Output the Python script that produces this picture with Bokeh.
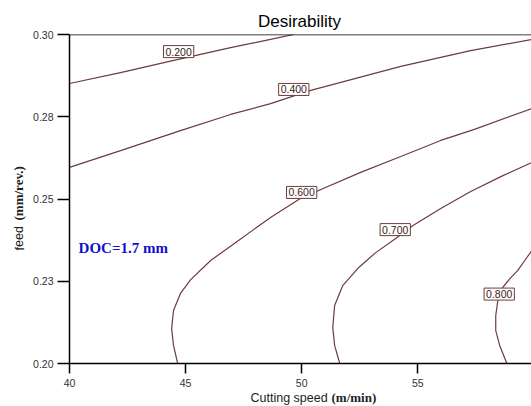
from bokeh.plotting import figure
from bokeh.models import Range1d, Label, Span, FixedTicker
from bokeh.embed import file_html
from bokeh.resources import INLINE

# ---- data ----
x_min, x_max = 40.0, 59.9
y_min, y_max = 0.20, 0.30
x_ticks = [40, 45, 50, 55, 60]
y_ticks = [0.200, 0.225, 0.250, 0.275, 0.300]
y_tick_labels = ["0.20", "0.23", "0.25", "0.28", "0.30"]

c200_x = [40.0, 42.20, 44.35, 46.94, 48.66, 49.66]
c200_y = [0.2851, 0.2884, 0.2919, 0.2960, 0.2985, 0.3000]

c400_x = [40.0, 42.20, 44.78, 46.94, 48.66, 50.39, 54.27, 57.28, 59.91]
c400_y = [0.2596, 0.2647, 0.2708, 0.2757, 0.2790, 0.2830, 0.2903, 0.2951, 0.2985]

c600_x = [44.66, 44.48, 44.40, 44.48, 44.78, 45.22, 46.08, 47.16, 48.66, 49.96,
          50.73, 52.54, 54.27, 55.99, 57.41, 59.91]
c600_y = [0.2000, 0.2055, 0.2106, 0.2161, 0.2213, 0.2255, 0.2313, 0.2368, 0.2444, 0.2502,
          0.2526, 0.2581, 0.2629, 0.2678, 0.2711, 0.2775]

c700_x = [51.64, 51.42, 51.34, 51.42, 51.77, 52.46, 53.19, 54.05, 54.78, 55.99,
          57.28, 58.58, 59.91]
c700_y = [0.2000, 0.2055, 0.2109, 0.2176, 0.2237, 0.2292, 0.2337, 0.2380, 0.2419, 0.2471,
          0.2523, 0.2568, 0.2611]

c800_x = [58.84, 58.53, 58.36, 58.36, 58.45, 58.66, 58.97, 59.31, 59.61, 59.91]
c800_y = [0.2000, 0.2055, 0.2100, 0.2146, 0.2191, 0.2231, 0.2258, 0.2283, 0.2313, 0.2343]

contour_levels = ["0.200", "0.400", "0.600", "0.700", "0.800"]
label_x = [44.70, 49.66, 50.00, 54.03, 58.51]
label_y = [0.2948, 0.2833, 0.2520, 0.2407, 0.2211]

title_text = "Desirability"
x_label_main = "Cutting speed"
x_label_unit = "(m/min)"
y_label_main = "feed"
y_label_unit = "(mm/rev.)"
note_text = "DOC=1.7 mm"
note_x, note_y = 40.39, 0.235

# ---- styling ----
LINE = "#6e3b3b"
SANS = "Liberation Sans"
SERIF = "Liberation Serif"

p = figure(width=531, height=406, output_backend="svg", toolbar_location=None,
           x_range=Range1d(x_min, x_max), y_range=Range1d(y_min, y_max),
           min_border_left=69, min_border_right=0, min_border_top=34,
           min_border_bottom=43)

p.grid.visible = False
p.outline_line_color = None
p.background_fill_color = "white"
p.border_fill_color = "white"

for ax in (p.xaxis[0], p.yaxis[0]):
    ax.axis_line_color = "black"
    ax.axis_line_width = 1.5
    ax.major_tick_line_color = "black"
    ax.major_tick_line_width = 1.5
    ax.minor_tick_line_color = None
    ax.major_tick_in = 0
    ax.major_label_text_font = SANS
    ax.major_label_text_font_size = "10.5px"
    ax.major_label_text_color = "#333333"

p.xaxis[0].ticker = FixedTicker(ticks=x_ticks)
p.xaxis[0].major_tick_out = 10
p.xaxis[0].major_label_standoff = 5
p.yaxis[0].ticker = FixedTicker(ticks=y_ticks)
p.yaxis[0].major_label_overrides = {t: s for t, s in zip(y_ticks, y_tick_labels)}
p.yaxis[0].major_tick_out = 12
p.yaxis[0].major_label_standoff = 4

p.add_layout(Span(location=y_max, dimension="width", line_color="black", line_width=1.5))

for cx, cy in [(c200_x, c200_y), (c400_x, c400_y), (c600_x, c600_y),
               (c700_x, c700_y), (c800_x, c800_y)]:
    p.line(cx, cy, line_color=LINE, line_width=1.2)

for lx, ly, txt in zip(label_x, label_y, contour_levels):
    p.add_layout(Label(x=lx, y=ly, text=txt, text_align="center", text_baseline="middle",
                       text_font=SANS, text_font_size="10.5px", text_color="#3a2020",
                       background_fill_color="white", border_line_color=LINE,
                       border_line_width=1, padding=2))

p.add_layout(Label(x=note_x, y=note_y, text=note_text, text_align="left",
                   text_baseline="middle", text_font=SERIF, text_font_style="bold",
                   text_font_size="15px", text_color="#1010cc"))

# title and axis titles (mixed fonts) placed in the side panels
p.add_layout(Label(x=181, y=6, x_units="screen", y_units="screen", text=x_label_main,
                   text_align="left", text_baseline="middle", text_font=SANS,
                   text_font_size="12.5px", text_color="#222222"), "below")
p.add_layout(Label(x=262, y=-363, x_units="screen", y_units="screen", text=x_label_unit,
                   text_align="left", text_baseline="middle", text_font=SERIF,
                   text_font_style="bold", text_font_size="13px", text_color="#222222"), "above")
p.add_layout(Label(x=230, y=-2, x_units="screen", y_units="screen", text=title_text,
                   text_align="center", text_baseline="alphabetic", text_font=SANS,
                   text_font_size="17px", text_color="black"), "above")
p.add_layout(Label(x=3, y=113, x_units="screen", y_units="screen", text=y_label_main,
                   angle=1.5708, text_align="left", text_baseline="middle", text_font=SANS,
                   text_font_size="12.5px", text_color="#222222"), "left")
p.add_layout(Label(x=17, y=143, x_units="screen", y_units="screen", text=y_label_unit,
                   angle=1.5708, text_align="left", text_baseline="middle", text_font=SERIF,
                   text_font_style="bold", text_font_size="13px", text_color="#222222"), "left")

open("out.html", "w").write(file_html(p, INLINE))
